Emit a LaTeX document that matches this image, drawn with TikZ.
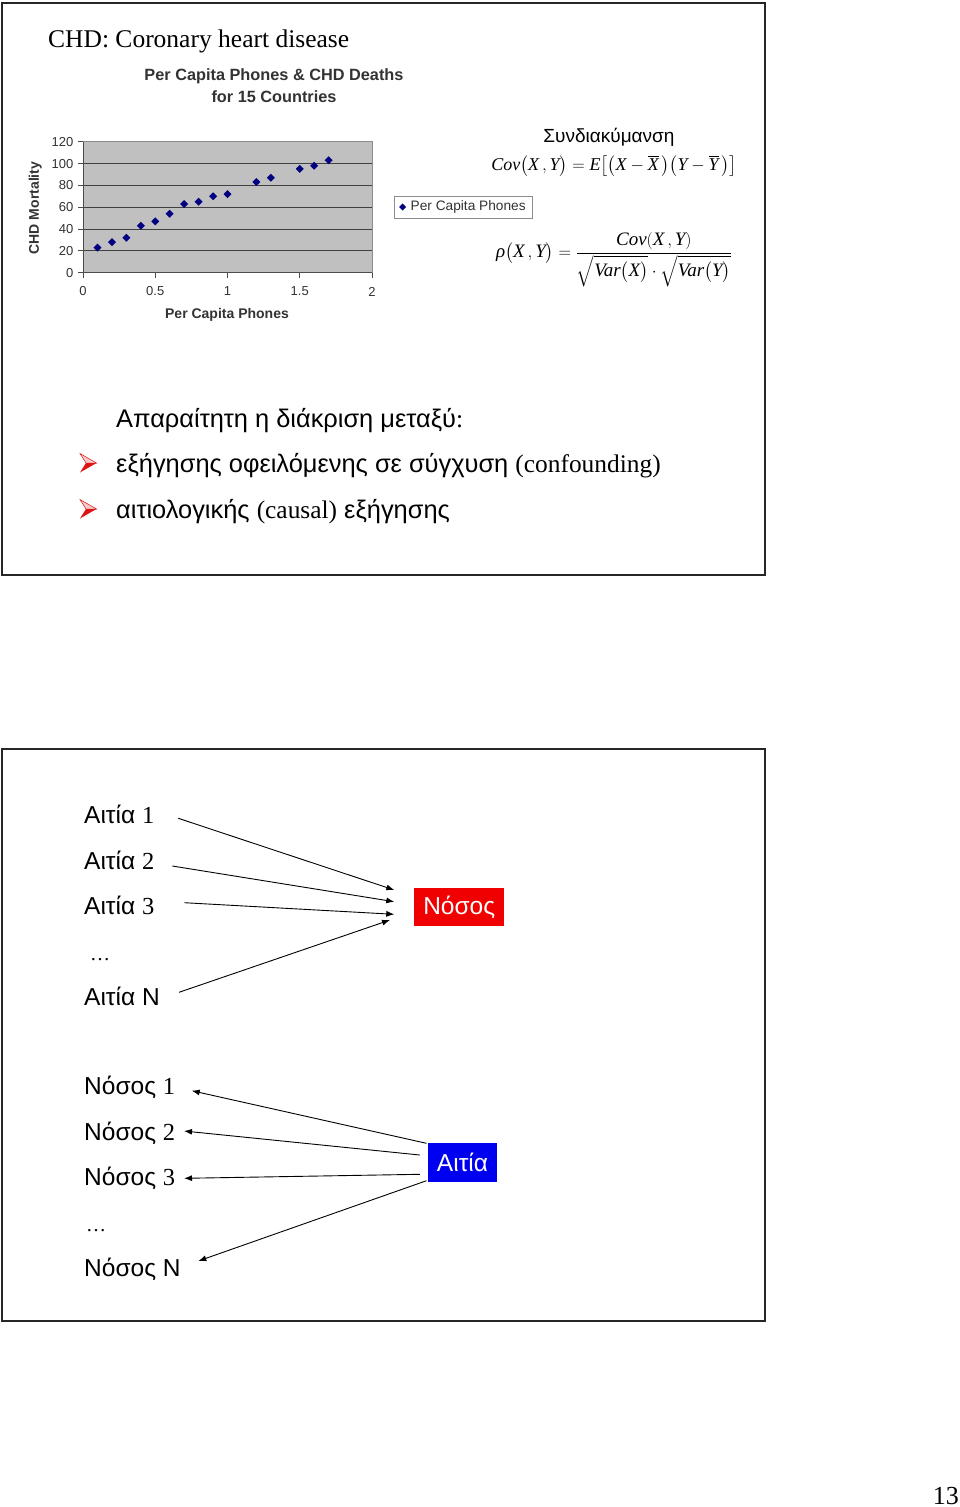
\documentclass[tikz,border=0pt]{standalone}
\usepackage{amsmath}
\usepackage{fontspec}
\setmainfont{Liberation Serif}
\newfontfamily\arial{Liberation Sans}
\usetikzlibrary{calc,arrows.meta}
\definecolor{navyd}{RGB}{0,0,128}
\definecolor{plotgray}{RGB}{192,192,192}
\definecolor{boxred}{RGB}{240,0,0}
\definecolor{boxblue}{RGB}{0,0,240}
\definecolor{bulred}{RGB}{220,20,20}
\definecolor{bulpink}{RGB}{250,200,200}
\tikzset{
  frame/.style={draw=black!85, line width=2.2pt},
  lab/.style={anchor=base west, inner sep=0pt, font=\arial\fontsize{24.5}{28}\selectfont},
  ticklab/.style={inner sep=0pt, font=\arial\fontsize{13}{15}\selectfont, text=black!80},
  boldlab/.style={inner sep=0pt, font=\arial\bfseries\fontsize{14}{16}\selectfont, text=black!80},
  arr/.style={draw=black, line width=0.9pt, -{Latex[length=8pt,width=6pt]}},
  bigtext/.style={anchor=base west, inner sep=0pt, font=\arial\fontsize{25.4}{30}\selectfont},
  colbox/.style={text=white, inner sep=0pt, font=\arial\fontsize{24.5}{28}\selectfont},
}
\newcommand{\ti}[1]{\textit{#1}}
\begin{document}
\begin{tikzpicture}[x=1pt,y=-1pt]
\useasboundingbox (0,0) rectangle (960,1507);
\fill[white] (0,0) rectangle (960,1507);
% frames
\draw[frame] (2,3) rectangle (765,575);
\draw[frame] (2,749) rectangle (765,1321);
% title
\node[anchor=base west, inner sep=0pt, font=\fontsize{25.5}{30}\selectfont] (title) at (48,47.5) {CHD: Coronary heart disease};
% chart
\node[inner sep=0pt, font=\arial\bfseries\fontsize{16.3}{19}\selectfont, text=black!80] (ct1) at (274,76) {Per Capita Phones \& CHD Deaths};
\node[inner sep=0pt, font=\arial\bfseries\fontsize{16.3}{19}\selectfont, text=black!80] (ct2) at (274,97) {for 15 Countries};
\fill[plotgray] (83,141.7) rectangle (372,272.7);
\draw[black!45, line width=0.8pt] (83,141.7) -- (372,141.7) -- (372,272.7);
\foreach \v in {20,40,60,80,100}{
  \draw[black!75, line width=0.9pt] (83,{272.7-1.0917*\v}) -- (372,{272.7-1.0917*\v});
}
\draw[black!70, line width=0.9pt] (83,141.7) -- (83,272.7) -- (372,272.7);
\foreach \v in {0,20,40,60,80,100,120}{
  \draw[black!70, line width=0.9pt] (78,{272.7-1.0917*\v}) -- (83,{272.7-1.0917*\v});
  \node[ticklab, anchor=east] (yt\v) at (73.5,{272.7-1.0917*\v}) {\v};
}
\foreach \v/\t in {0/0,0.5/0.5,1/1,1.5/1.5,2/2}{
  \draw[black!70, line width=0.9pt] ({83+144.5*\v},272.7) -- ({83+144.5*\v},277.5);
  \node[ticklab] at ({83+144.5*\v},291.5) {\t};
}
\node[boldlab] (xt) at (227,315) {Per Capita Phones};
\node[boldlab, rotate=90] (yl) at (35.3,208) {CHD Mortality};
\foreach \px/\py in {0.1/23,0.2/28,0.3/32,0.4/43,0.5/47,0.6/54,0.7/63,0.8/65,0.9/70,1.0/72,1.2/83,1.3/87,1.5/95,1.6/98,1.7/103}{
  \fill[navyd] ({83+144.5*\px},{272.7-1.0917*\py}) +(-4,0) -- +(0,-4) -- +(4,0) -- +(0,4) -- cycle;
}
% legend
\draw[black!45, line width=0.8pt, fill=white] (394,196) rectangle (532,218);
\fill[navyd] (402.5,207) +(-3.5,0) -- +(0,-3.5) -- +(3.5,0) -- +(0,3.5) -- cycle;
\node[ticklab, anchor=west, font=\arial\fontsize{13.7}{15}\selectfont] (leg) at (410.5,207) {Per Capita Phones};
% formulas
\node[inner sep=0pt, font=\arial\fontsize{19}{22}\selectfont] (syn) at (609,137) {Συνδιακύμανση};
\node[inner sep=0pt, font=\fontsize{18}{22}\selectfont] (cov) at (614,166)
 {$\ti{Cov}\bigl(\ti{X}\,,\ti{Y}\bigr) = \ti{E}\bigl[\bigl(\ti{X} - \overline{\ti{X}}\,\bigr)\bigl(\ti{Y} - \overline{\ti{Y}}\,\bigr)\bigr]$};
\node[inner sep=0pt, font=\fontsize{19}{23}\selectfont] (rho) at (614,260)
 {$\ti{ρ}\bigl(\ti{X}\,,\ti{Y}\bigr) = \dfrac{\ti{Cov}(\ti{X}\,,\ti{Y})}{\sqrt{\ti{Var}\bigl(\ti{X}\bigr)}\cdot\sqrt{\ti{Var}\bigl(\ti{Y}\bigr)}}$};
% bullet text
\node[bigtext] (l1) at (116,427) {Απαραίτητη η διάκριση μεταξύ{\rmfamily :}};
\node[bigtext] (l2) at (116,472) {εξήγησης οφειλόμενης σε σύγχυση {\rmfamily (confounding)}};
\node[bigtext] (l3) at (116,518) {αιτιολογικής {\rmfamily (causal)} εξήγησης};
\foreach \yy in {463,509}{
  \filldraw[draw=bulred, fill=bulpink, line width=0.5pt] (80,\yy-9.5) -- (96.5,\yy) -- (86,\yy) -- cycle;
  \fill[bulred] (86,\yy) -- (96.5,\yy) -- (80,\yy+9.5) -- cycle;
}
% causes -> disease
\node[lab] (a1) at (84,823) {Αιτία {\rmfamily 1}};
\node[lab] (a2) at (84,869) {Αιτία {\rmfamily 2}};
\node[lab] (a3) at (84,914) {Αιτία {\rmfamily 3}};
\node[lab, font=\fontsize{20}{24}\selectfont] (adots) at (90,960) {…};
\node[lab] (aN) at (84,1005) {Αιτία N};
\node[colbox, fill=boxred, minimum width=90pt, minimum height=38pt] (nosos) at (459.2,907) {Νόσος};
\draw[arr] ($(a1.base west)+(94.3,-4.7)$) -- ($(nosos.west)+(-19.7,-17)$);
\draw[arr] ($(a2.base west)+(88.3,-3)$) -- ($(nosos.west)+(-19.7,-5.3)$);
\draw[arr] ($(a3.base west)+(100.3,-11.3)$) -- ($(nosos.west)+(-19.7,7.3)$);
\draw[arr] ($(aN.base west)+(95,-12.7)$) -- ($(nosos.west)+(-24,13)$);
% cause -> diseases
\node[lab] (n1) at (84,1094.3) {Νόσος {\rmfamily 1}};
\node[lab] (n2) at (84,1140) {Νόσος {\rmfamily 2}};
\node[lab] (n3) at (84,1185) {Νόσος {\rmfamily 3}};
\node[lab, font=\fontsize{20}{24}\selectfont] (ndots) at (86,1231.5) {…};
\node[lab] (nN) at (84,1276.7) {Νόσος N};
\node[colbox, fill=boxblue, minimum width=68.4pt, minimum height=38.4pt] (aitia) at (462.5,1162.5) {Αιτία};
\draw[arr] ($(aitia.west)+(-1.6,-19.2)$) -- ($(n1.base west)+(107.7,-3.6)$);
\draw[arr] ($(aitia.west)+(-8.3,-7.5)$) -- ($(n2.base west)+(100,-9)$);
\draw[arr] ($(aitia.west)+(-8.3,11.8)$) -- ($(n3.base west)+(100,-6.7)$);
\draw[arr] ($(aitia.west)+(-1.6,18.2)$) -- ($(nN.base west)+(114.3,-15.7)$);
% page number
\node[anchor=base east, inner sep=0pt, font=\fontsize{26}{30}\selectfont] (pg) at (959,1504) {13};
\end{tikzpicture}
\end{document}
